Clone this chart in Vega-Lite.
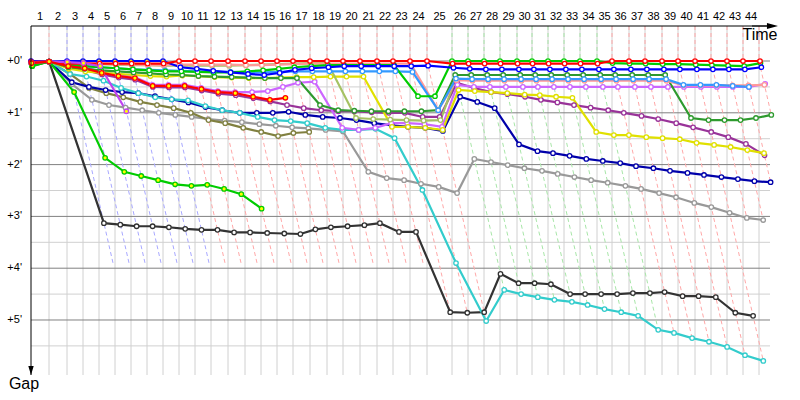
{
"$schema":"https://vega.github.io/schema/vega-lite/v6.json",
"width":739,"height":349,"autosize":"none",
"padding":{"left":31,"top":26,"right":30,"bottom":25},
"background":"white",
"config":{"view":{"stroke":null},"font":"Liberation Sans"},
"datasets":{
"laps":[
{"lap":1,"t0":18,"mid":9},{"lap":2,"t0":36,"mid":27},{"lap":3,"t0":52,"mid":44},{"lap":4,"t0":68,"mid":60},{"lap":5,"t0":84,"mid":76},{"lap":6,"t0":100,"mid":92},{"lap":7,"t0":116,"mid":108},{"lap":8,"t0":132,"mid":124},{"lap":9,"t0":148,"mid":140},{"lap":10,"t0":164,"mid":156},{"lap":11,"t0":180,"mid":172},{"lap":12,"t0":197,"mid":188.5},{"lap":13,"t0":214,"mid":205.5},{"lap":14,"t0":230,"mid":222},{"lap":15,"t0":246,"mid":238},{"lap":16,"t0":262,"mid":254},{"lap":17,"t0":279,"mid":270.5},{"lap":18,"t0":296,"mid":287.5},{"lap":19,"t0":312,"mid":304},{"lap":20,"t0":329,"mid":320.5},{"lap":21,"t0":346,"mid":337.5},{"lap":22,"t0":362,"mid":354},{"lap":23,"t0":379,"mid":370.5},{"lap":24,"t0":396,"mid":387.5},{"lap":25,"t0":421,"mid":408.5},{"lap":26,"t0":437,"mid":429},{"lap":27,"t0":453,"mid":445},{"lap":28,"t0":469,"mid":461},{"lap":29,"t0":486,"mid":477.5},{"lap":30,"t0":501,"mid":493.5},{"lap":31,"t0":517,"mid":509},{"lap":32,"t0":533,"mid":525},{"lap":33,"t0":549,"mid":541},{"lap":34,"t0":566,"mid":557.5},{"lap":35,"t0":581,"mid":573.5},{"lap":36,"t0":598,"mid":589.5},{"lap":37,"t0":614,"mid":606},{"lap":38,"t0":631,"mid":622.5},{"lap":39,"t0":647,"mid":639},{"lap":40,"t0":664,"mid":655.5},{"lap":41,"t0":680,"mid":672},{"lap":42,"t0":696,"mid":688},{"lap":43,"t0":712,"mid":704},{"lap":44,"t0":728,"mid":720}
],
"lseg":[
{"lap":1,"k":0,"t":18,"g":-0.676,"d":"Lp"},{"lap":1,"k":1,"t":18,"g":0,"d":"Lp"},
{"lap":2,"k":0,"t":36,"g":-0.676,"d":"Lb"},{"lap":2,"k":1,"t":36,"g":0,"d":"Lb"},{"lap":2,"k":2,"t":82.6,"g":3.95,"d":"Lb"},
{"lap":3,"k":0,"t":52,"g":-0.676,"d":"Lb"},{"lap":3,"k":1,"t":52,"g":0,"d":"Lb"},{"lap":3,"k":2,"t":98.6,"g":3.95,"d":"Lb"},
{"lap":4,"k":0,"t":68,"g":-0.676,"d":"Lb"},{"lap":4,"k":1,"t":68,"g":0,"d":"Lb"},{"lap":4,"k":2,"t":114.6,"g":3.95,"d":"Lb"},
{"lap":5,"k":0,"t":84,"g":-0.676,"d":"Lb"},{"lap":5,"k":1,"t":84,"g":0,"d":"Lb"},{"lap":5,"k":2,"t":130.6,"g":3.95,"d":"Lb"},
{"lap":6,"k":0,"t":100,"g":-0.676,"d":"Lb"},{"lap":6,"k":1,"t":100,"g":0,"d":"Lb"},{"lap":6,"k":2,"t":146.6,"g":3.95,"d":"Lb"},
{"lap":7,"k":0,"t":116,"g":-0.676,"d":"Lb"},{"lap":7,"k":1,"t":116,"g":0,"d":"Lb"},{"lap":7,"k":2,"t":162.6,"g":3.95,"d":"Lb"},
{"lap":8,"k":0,"t":132,"g":-0.676,"d":"Lb"},{"lap":8,"k":1,"t":132,"g":0,"d":"Lb"},{"lap":8,"k":2,"t":178.6,"g":3.95,"d":"Lb"},
{"lap":9,"k":0,"t":148,"g":-0.676,"d":"Lr"},{"lap":9,"k":1,"t":148,"g":0,"d":"Lr"},{"lap":9,"k":2,"t":194.6,"g":3.95,"d":"Lr"},
{"lap":10,"k":0,"t":164,"g":-0.676,"d":"Lr"},{"lap":10,"k":1,"t":164,"g":0,"d":"Lr"},{"lap":10,"k":2,"t":210.6,"g":3.95,"d":"Lr"},
{"lap":11,"k":0,"t":180,"g":-0.676,"d":"Lr"},{"lap":11,"k":1,"t":180,"g":0,"d":"Lr"},{"lap":11,"k":2,"t":226.6,"g":3.95,"d":"Lr"},
{"lap":12,"k":0,"t":197,"g":-0.676,"d":"Lr"},{"lap":12,"k":1,"t":197,"g":0,"d":"Lr"},{"lap":12,"k":2,"t":243.6,"g":3.95,"d":"Lr"},
{"lap":13,"k":0,"t":214,"g":-0.676,"d":"Lr"},{"lap":13,"k":1,"t":214,"g":0,"d":"Lr"},{"lap":13,"k":2,"t":260.6,"g":3.95,"d":"Lr"},
{"lap":14,"k":0,"t":230,"g":-0.676,"d":"Lr"},{"lap":14,"k":1,"t":230,"g":0,"d":"Lr"},{"lap":14,"k":2,"t":276.6,"g":3.95,"d":"Lr"},
{"lap":15,"k":0,"t":246,"g":-0.676,"d":"Lr"},{"lap":15,"k":1,"t":246,"g":0,"d":"Lr"},{"lap":15,"k":2,"t":292.6,"g":3.95,"d":"Lr"},
{"lap":16,"k":0,"t":262,"g":-0.676,"d":"Lr"},{"lap":16,"k":1,"t":262,"g":0,"d":"Lr"},{"lap":16,"k":2,"t":308.6,"g":3.95,"d":"Lr"},
{"lap":17,"k":0,"t":279,"g":-0.676,"d":"Lr"},{"lap":17,"k":1,"t":279,"g":0,"d":"Lr"},{"lap":17,"k":2,"t":325.6,"g":3.95,"d":"Lr"},
{"lap":18,"k":0,"t":296,"g":-0.676,"d":"Lr"},{"lap":18,"k":1,"t":296,"g":0,"d":"Lr"},{"lap":18,"k":2,"t":342.6,"g":3.95,"d":"Lr"},
{"lap":19,"k":0,"t":312,"g":-0.676,"d":"Lr"},{"lap":19,"k":1,"t":312,"g":0,"d":"Lr"},{"lap":19,"k":2,"t":358.6,"g":3.95,"d":"Lr"},
{"lap":20,"k":0,"t":329,"g":-0.676,"d":"Lr"},{"lap":20,"k":1,"t":329,"g":0,"d":"Lr"},{"lap":20,"k":2,"t":375.6,"g":3.95,"d":"Lr"},
{"lap":21,"k":0,"t":346,"g":-0.676,"d":"Lr"},{"lap":21,"k":1,"t":346,"g":0,"d":"Lr"},{"lap":21,"k":2,"t":392.6,"g":3.95,"d":"Lr"},
{"lap":22,"k":0,"t":362,"g":-0.676,"d":"Lr"},{"lap":22,"k":1,"t":362,"g":0,"d":"Lr"},{"lap":22,"k":2,"t":419.2,"g":4.85,"d":"Lr"},
{"lap":23,"k":0,"t":379,"g":-0.676,"d":"Lr"},{"lap":23,"k":1,"t":379,"g":0,"d":"Lr"},{"lap":23,"k":2,"t":436.3,"g":4.86,"d":"Lr"},
{"lap":24,"k":0,"t":396,"g":-0.676,"d":"Lr"},{"lap":24,"k":1,"t":396,"g":0,"d":"Lr"},{"lap":24,"k":2,"t":455.2,"g":5.02,"d":"Lr"},
{"lap":25,"k":0,"t":421,"g":-0.676,"d":"Lg"},{"lap":25,"k":1,"t":421,"g":0,"d":"Lg"},{"lap":25,"k":2,"t":473.2,"g":4.42,"d":"Lg"},
{"lap":26,"k":0,"t":437,"g":-0.676,"d":"Lg"},{"lap":26,"k":1,"t":437,"g":0,"d":"Lg"},{"lap":26,"k":2,"t":490.1,"g":4.5,"d":"Lg"},
{"lap":27,"k":0,"t":453,"g":-0.676,"d":"Lg"},{"lap":27,"k":1,"t":453,"g":0,"d":"Lg"},{"lap":27,"k":2,"t":506.8,"g":4.56,"d":"Lg"},
{"lap":28,"k":0,"t":469,"g":-0.676,"d":"Lg"},{"lap":28,"k":1,"t":469,"g":0,"d":"Lg"},{"lap":28,"k":2,"t":523.4,"g":4.61,"d":"Lg"},
{"lap":29,"k":0,"t":486,"g":-0.676,"d":"Lg"},{"lap":29,"k":1,"t":486,"g":0,"d":"Lg"},{"lap":29,"k":2,"t":540.9,"g":4.65,"d":"Lg"},
{"lap":30,"k":0,"t":501,"g":-0.676,"d":"Lg"},{"lap":30,"k":1,"t":501,"g":0,"d":"Lg"},{"lap":30,"k":2,"t":556.6,"g":4.71,"d":"Lg"},
{"lap":31,"k":0,"t":517,"g":-0.676,"d":"Lg"},{"lap":31,"k":1,"t":517,"g":0,"d":"Lg"},{"lap":31,"k":2,"t":573.5,"g":4.79,"d":"Lg"},
{"lap":32,"k":0,"t":533,"g":-0.676,"d":"Lg"},{"lap":32,"k":1,"t":533,"g":0,"d":"Lg"},{"lap":32,"k":2,"t":590.2,"g":4.85,"d":"Lg"},
{"lap":33,"k":0,"t":549,"g":-0.676,"d":"Lg"},{"lap":33,"k":1,"t":549,"g":0,"d":"Lg"},{"lap":33,"k":2,"t":607.1,"g":4.92,"d":"Lg"},
{"lap":34,"k":0,"t":566,"g":-0.676,"d":"Lg"},{"lap":34,"k":1,"t":566,"g":0,"d":"Lg"},{"lap":34,"k":2,"t":627.2,"g":5.19,"d":"Lg"},
{"lap":35,"k":0,"t":581,"g":-0.676,"d":"Lr"},{"lap":35,"k":1,"t":581,"g":0,"d":"Lr"},{"lap":35,"k":2,"t":643,"g":5.25,"d":"Lr"},
{"lap":36,"k":0,"t":598,"g":-0.676,"d":"Lr"},{"lap":36,"k":1,"t":598,"g":0,"d":"Lr"},{"lap":36,"k":2,"t":661.1,"g":5.35,"d":"Lr"},
{"lap":37,"k":0,"t":614,"g":-0.676,"d":"Lr"},{"lap":37,"k":1,"t":614,"g":0,"d":"Lr"},{"lap":37,"k":2,"t":678,"g":5.42,"d":"Lr"},
{"lap":38,"k":0,"t":631,"g":-0.676,"d":"Lr"},{"lap":38,"k":1,"t":631,"g":0,"d":"Lr"},{"lap":38,"k":2,"t":696.1,"g":5.52,"d":"Lr"},
{"lap":39,"k":0,"t":647,"g":-0.676,"d":"Lr"},{"lap":39,"k":1,"t":647,"g":0,"d":"Lr"},{"lap":39,"k":2,"t":714,"g":5.68,"d":"Lr"},
{"lap":40,"k":0,"t":664,"g":-0.676,"d":"Lr"},{"lap":40,"k":1,"t":664,"g":0,"d":"Lr"},{"lap":40,"k":2,"t":732.3,"g":5.79,"d":"Lr"},
{"lap":41,"k":0,"t":680,"g":-0.676,"d":"Lr"},{"lap":41,"k":1,"t":680,"g":0,"d":"Lr"},{"lap":41,"k":2,"t":715.8,"g":3.03,"d":"Lr"},
{"lap":42,"k":0,"t":696,"g":-0.676,"d":"Lr"},{"lap":42,"k":1,"t":696,"g":0,"d":"Lr"},{"lap":42,"k":2,"t":732.2,"g":3.07,"d":"Lr"},
{"lap":43,"k":0,"t":712,"g":-0.676,"d":"Lr"},{"lap":43,"k":1,"t":712,"g":0,"d":"Lr"},{"lap":43,"k":2,"t":739.6,"g":2.34,"d":"Lr"},
{"lap":44,"k":0,"t":728,"g":-0.676,"d":"Lr"},{"lap":44,"k":1,"t":728,"g":0,"d":"Lr"},{"lap":44,"k":2,"t":740.3,"g":1.04,"d":"Lr"}
],
"drv":[
{"d":"bk","lap":0,"t":0.7,"g":0.06},{"d":"bk","lap":1,"t":18.1,"g":0.01},{"d":"bk","lap":2,"t":72.9,"g":3.13},{"d":"bk","lap":3,"t":89.3,"g":3.16},{"d":"bk","lap":4,"t":105.6,"g":3.19},{"d":"bk","lap":5,"t":121.6,"g":3.19},{"d":"bk","lap":6,"t":137.9,"g":3.21},{"d":"bk","lap":7,"t":154.2,"g":3.24},{"d":"bk","lap":8,"t":170.5,"g":3.26},{"d":"bk","lap":9,"t":186.5,"g":3.26},{"d":"bk","lap":10,"t":203.1,"g":3.31},{"d":"bk","lap":11,"t":219.1,"g":3.31},{"d":"bk","lap":12,"t":236.2,"g":3.32},{"d":"bk","lap":13,"t":253.3,"g":3.33},{"d":"bk","lap":14,"t":269.4,"g":3.34},{"d":"bk","lap":15,"t":284.4,"g":3.25},{"d":"bk","lap":16,"t":299.9,"g":3.21},{"d":"bk","lap":17,"t":316.6,"g":3.19},{"d":"bk","lap":18,"t":333.4,"g":3.17},{"d":"bk","lap":19,"t":348.9,"g":3.13},{"d":"bk","lap":20,"t":368,"g":3.3},{"d":"bk","lap":21,"t":385,"g":3.3},{"d":"bk","lap":22,"t":419.2,"g":4.85},{"d":"bk","lap":23,"t":436.3,"g":4.86},{"d":"bk","lap":24,"t":453.2,"g":4.85},{"d":"bk","lap":25,"t":469.5,"g":4.11},{"d":"bk","lap":26,"t":487.6,"g":4.29},{"d":"bk","lap":27,"t":503.6,"g":4.29},{"d":"bk","lap":28,"t":519.9,"g":4.31},{"d":"bk","lap":29,"t":539.1,"g":4.5},{"d":"bk","lap":30,"t":554.1,"g":4.5},{"d":"bk","lap":31,"t":570.1,"g":4.5},{"d":"bk","lap":32,"t":586.1,"g":4.5},{"d":"bk","lap":33,"t":601.9,"g":4.48},{"d":"bk","lap":34,"t":618.9,"g":4.48},{"d":"bk","lap":35,"t":633.6,"g":4.46},{"d":"bk","lap":36,"t":651.6,"g":4.54},{"d":"bk","lap":37,"t":667.6,"g":4.54},{"d":"bk","lap":38,"t":684.8,"g":4.56},{"d":"bk","lap":39,"t":704.3,"g":4.86},{"d":"bk","lap":40,"t":722.1,"g":4.92},
{"d":"gr","lap":0,"t":1.2,"g":0.1},{"d":"gr","lap":1,"t":18.1,"g":0.01},{"d":"gr","lap":2,"t":41.3,"g":0.45},{"d":"gr","lap":3,"t":60.9,"g":0.75},{"d":"gr","lap":4,"t":78,"g":0.85},{"d":"gr","lap":5,"t":94.6,"g":0.9},{"d":"gr","lap":6,"t":111.2,"g":0.95},{"d":"gr","lap":7,"t":127.8,"g":1.0},{"d":"gr","lap":8,"t":144.3,"g":1.04},{"d":"gr","lap":9,"t":160.7,"g":1.08},{"d":"gr","lap":10,"t":177.2,"g":1.12},{"d":"gr","lap":11,"t":193.6,"g":1.15},{"d":"gr","lap":12,"t":210.9,"g":1.18},{"d":"gr","lap":13,"t":228.4,"g":1.22},{"d":"gr","lap":14,"t":244.8,"g":1.25},{"d":"gr","lap":15,"t":261.1,"g":1.28},{"d":"gr","lap":16,"t":277.3,"g":1.3},{"d":"gr","lap":17,"t":294.7,"g":1.33},{"d":"gr","lap":18,"t":312,"g":1.36},{"d":"gr","lap":19,"t":337.3,"g":2.14},{"d":"gr","lap":20,"t":355.7,"g":2.26},{"d":"gr","lap":21,"t":373.1,"g":2.3},{"d":"gr","lap":22,"t":390,"g":2.37},{"d":"gr","lap":23,"t":407.7,"g":2.43},{"d":"gr","lap":24,"t":426.1,"g":2.55},{"d":"gr","lap":25,"t":443.3,"g":1.89},{"d":"gr","lap":26,"t":460,"g":1.95},{"d":"gr","lap":27,"t":476.7,"g":2.01},{"d":"gr","lap":28,"t":493.4,"g":2.07},{"d":"gr","lap":29,"t":511,"g":2.12},{"d":"gr","lap":30,"t":526.7,"g":2.18},{"d":"gr","lap":31,"t":543.4,"g":2.24},{"d":"gr","lap":32,"t":560.1,"g":2.3},{"d":"gr","lap":33,"t":576.7,"g":2.35},{"d":"gr","lap":34,"t":594.4,"g":2.41},{"d":"gr","lap":35,"t":610.1,"g":2.47},{"d":"gr","lap":36,"t":628.1,"g":2.55},{"d":"gr","lap":37,"t":645,"g":2.63},{"d":"gr","lap":38,"t":663.3,"g":2.74},{"d":"gr","lap":39,"t":680.3,"g":2.82},{"d":"gr","lap":40,"t":698.6,"g":2.93},{"d":"gr","lap":41,"t":715.8,"g":3.03},{"d":"gr","lap":42,"t":732.2,"g":3.07},
{"d":"o","lap":0,"t":0.9,"g":0.08},{"d":"o","lap":1,"t":18.1,"g":0.01},{"d":"o","lap":2,"t":39,"g":0.25},{"d":"o","lap":3,"t":58.1,"g":0.52},{"d":"o","lap":4,"t":75.3,"g":0.62},{"d":"o","lap":5,"t":92.3,"g":0.7},{"d":"o","lap":6,"t":109.3,"g":0.79},{"d":"o","lap":7,"t":126,"g":0.85},{"d":"o","lap":8,"t":142.7,"g":0.91},{"d":"o","lap":9,"t":159.8,"g":1.0},{"d":"o","lap":10,"t":177.5,"g":1.14},{"d":"o","lap":11,"t":194.2,"g":1.2},{"d":"o","lap":12,"t":212.2,"g":1.29},{"d":"o","lap":13,"t":230.2,"g":1.37},{"d":"o","lap":14,"t":247.1,"g":1.45},{"d":"o","lap":15,"t":262.4,"g":1.39},{"d":"o","lap":16,"t":278.2,"g":1.37},
{"d":"n","lap":0,"t":0.6,"g":0.05},{"d":"n","lap":1,"t":18.1,"g":0.01},{"d":"n","lap":2,"t":40.8,"g":0.41},{"d":"n","lap":3,"t":57.9,"g":0.5},{"d":"n","lap":4,"t":74.6,"g":0.56},{"d":"n","lap":5,"t":91.1,"g":0.6},{"d":"n","lap":6,"t":107.3,"g":0.62},{"d":"n","lap":7,"t":124,"g":0.68},{"d":"n","lap":8,"t":140.7,"g":0.74},{"d":"n","lap":9,"t":157.4,"g":0.8},{"d":"n","lap":10,"t":174.5,"g":0.89},{"d":"n","lap":11,"t":191.2,"g":0.95},{"d":"n","lap":12,"t":208.8,"g":1.0},{"d":"n","lap":13,"t":225.8,"g":1.0},{"d":"n","lap":14,"t":241.8,"g":1.0},{"d":"n","lap":15,"t":257.6,"g":0.98},{"d":"n","lap":16,"t":274.3,"g":1.04},{"d":"n","lap":17,"t":291.7,"g":1.08},{"d":"n","lap":18,"t":309,"g":1.1},{"d":"n","lap":19,"t":325.5,"g":1.14},{"d":"n","lap":20,"t":343.2,"g":1.2},{"d":"n","lap":21,"t":360.6,"g":1.24},{"d":"n","lap":22,"t":377,"g":1.27},{"d":"n","lap":23,"t":394.2,"g":1.29},{"d":"n","lap":24,"t":411.9,"g":1.35},{"d":"n","lap":25,"t":429.1,"g":0.69},{"d":"n","lap":26,"t":446.3,"g":0.79},{"d":"n","lap":27,"t":463.7,"g":0.91},{"d":"n","lap":28,"t":488,"g":1.61},{"d":"n","lap":29,"t":506.5,"g":1.74},{"d":"n","lap":30,"t":522,"g":1.78},{"d":"n","lap":31,"t":538.6,"g":1.83},{"d":"n","lap":32,"t":555.3,"g":1.89},{"d":"n","lap":33,"t":571.8,"g":1.93},{"d":"n","lap":34,"t":589.2,"g":1.97},{"d":"n","lap":35,"t":605,"g":2.03},{"d":"n","lap":36,"t":622.4,"g":2.07},{"d":"n","lap":37,"t":639,"g":2.12},{"d":"n","lap":38,"t":656.5,"g":2.16},{"d":"n","lap":39,"t":673,"g":2.2},{"d":"n","lap":40,"t":690.4,"g":2.24},{"d":"n","lap":41,"t":706.9,"g":2.28},{"d":"n","lap":42,"t":723.4,"g":2.32},{"d":"n","lap":43,"t":739.6,"g":2.34},
{"d":"c","lap":0,"t":0.6,"g":0.05},{"d":"c","lap":1,"t":18.1,"g":0.01},{"d":"c","lap":2,"t":39,"g":0.25},{"d":"c","lap":3,"t":55.5,"g":0.3},{"d":"c","lap":4,"t":72.5,"g":0.38},{"d":"c","lap":5,"t":90.1,"g":0.52},{"d":"c","lap":6,"t":107.3,"g":0.62},{"d":"c","lap":7,"t":124.3,"g":0.7},{"d":"c","lap":8,"t":140.7,"g":0.74},{"d":"c","lap":9,"t":157,"g":0.76},{"d":"c","lap":10,"t":174.3,"g":0.87},{"d":"c","lap":11,"t":191.2,"g":0.95},{"d":"c","lap":12,"t":208.8,"g":1.0},{"d":"c","lap":13,"t":226.7,"g":1.08},{"d":"c","lap":14,"t":243.5,"g":1.14},{"d":"c","lap":15,"t":259.7,"g":1.16},{"d":"c","lap":16,"t":276.2,"g":1.2},{"d":"c","lap":17,"t":294.2,"g":1.29},{"d":"c","lap":18,"t":311.7,"g":1.33},{"d":"c","lap":19,"t":327.7,"g":1.33},{"d":"c","lap":20,"t":344.5,"g":1.31},{"d":"c","lap":21,"t":363.6,"g":1.49},{"d":"c","lap":22,"t":391.4,"g":2.49},{"d":"c","lap":23,"t":425,"g":3.9},{"d":"c","lap":24,"t":455.2,"g":5.02},{"d":"c","lap":25,"t":473.2,"g":4.42},{"d":"c","lap":26,"t":490.1,"g":4.5},{"d":"c","lap":27,"t":506.8,"g":4.56},{"d":"c","lap":28,"t":523.4,"g":4.61},{"d":"c","lap":29,"t":540.9,"g":4.65},{"d":"c","lap":30,"t":556.6,"g":4.71},{"d":"c","lap":31,"t":573.5,"g":4.79},{"d":"c","lap":32,"t":590.2,"g":4.85},{"d":"c","lap":33,"t":607.1,"g":4.92},{"d":"c","lap":34,"t":627.2,"g":5.19},{"d":"c","lap":35,"t":643,"g":5.25},{"d":"c","lap":36,"t":661.1,"g":5.35},{"d":"c","lap":37,"t":678,"g":5.42},{"d":"c","lap":38,"t":696.1,"g":5.52},{"d":"c","lap":39,"t":714,"g":5.68},{"d":"c","lap":40,"t":732.3,"g":5.79},
{"d":"pu","lap":0,"t":0.8,"g":0.07},{"d":"pu","lap":1,"t":18.1,"g":0.01},{"d":"pu","lap":2,"t":37.5,"g":0.13},{"d":"pu","lap":3,"t":54,"g":0.17},{"d":"pu","lap":4,"t":71.1,"g":0.26},{"d":"pu","lap":5,"t":87.8,"g":0.32},{"d":"pu","lap":6,"t":104.2,"g":0.36},{"d":"pu","lap":7,"t":121.9,"g":0.5},{"d":"pu","lap":8,"t":138,"g":0.51},{"d":"pu","lap":9,"t":154,"g":0.51},{"d":"pu","lap":10,"t":170.7,"g":0.57},{"d":"pu","lap":11,"t":187.4,"g":0.63},{"d":"pu","lap":12,"t":204.8,"g":0.66},{"d":"pu","lap":13,"t":222.5,"g":0.72},{"d":"pu","lap":14,"t":239.2,"g":0.78},{"d":"pu","lap":15,"t":256,"g":0.85},{"d":"pu","lap":16,"t":272.7,"g":0.91},{"d":"pu","lap":17,"t":290.2,"g":0.95},{"d":"pu","lap":18,"t":307.4,"g":0.97},{"d":"pu","lap":19,"t":323.4,"g":0.97},{"d":"pu","lap":20,"t":340.7,"g":0.99},{"d":"pu","lap":21,"t":357.8,"g":1.0},{"d":"pu","lap":22,"t":373.8,"g":1.0},{"d":"pu","lap":23,"t":391.7,"g":1.08},{"d":"pu","lap":24,"t":408.7,"g":1.08},{"d":"pu","lap":25,"t":426,"g":0.42},{"d":"pu","lap":26,"t":443.1,"g":0.52},{"d":"pu","lap":27,"t":460.1,"g":0.6},{"d":"pu","lap":28,"t":476.6,"g":0.64},{"d":"pu","lap":29,"t":494.1,"g":0.69},{"d":"pu","lap":30,"t":509.9,"g":0.75},{"d":"pu","lap":31,"t":526.4,"g":0.8},{"d":"pu","lap":32,"t":543,"g":0.85},{"d":"pu","lap":33,"t":559.6,"g":0.9},{"d":"pu","lap":34,"t":577.2,"g":0.95},{"d":"pu","lap":35,"t":592.8,"g":1.0},{"d":"pu","lap":36,"t":610.5,"g":1.06},{"d":"pu","lap":37,"t":627.2,"g":1.12},{"d":"pu","lap":38,"t":645.2,"g":1.2},{"d":"pu","lap":39,"t":662.1,"g":1.28},{"d":"pu","lap":40,"t":680.2,"g":1.37},{"d":"pu","lap":41,"t":697.3,"g":1.47},{"d":"pu","lap":42,"t":714.9,"g":1.6},{"d":"pu","lap":43,"t":733.5,"g":1.82},
{"d":"v2","lap":0,"t":0.7,"g":0.06},{"d":"v2","lap":1,"t":18.1,"g":0.01},{"d":"v2","lap":2,"t":36.9,"g":0.08},{"d":"v2","lap":3,"t":53.4,"g":0.12},{"d":"v2","lap":4,"t":70.5,"g":0.21},{"d":"v2","lap":5,"t":87.2,"g":0.27},{"d":"v2","lap":6,"t":103.7,"g":0.31},{"d":"v2","lap":7,"t":121.4,"g":0.46},{"d":"v2","lap":8,"t":137.4,"g":0.46},{"d":"v2","lap":9,"t":153.4,"g":0.46},{"d":"v2","lap":10,"t":170.1,"g":0.52},{"d":"v2","lap":11,"t":186.8,"g":0.58},{"d":"v2","lap":12,"t":204.1,"g":0.6},{"d":"v2","lap":13,"t":221.1,"g":0.6},{"d":"v2","lap":14,"t":236.8,"g":0.58},{"d":"v2","lap":15,"t":251.9,"g":0.5},{"d":"v2","lap":16,"t":267,"g":0.42},{"d":"v2","lap":17,"t":283.7,"g":0.4},{"d":"v2","lap":18,"t":311.2,"g":1.29},{"d":"v2","lap":19,"t":327.7,"g":1.33},{"d":"v2","lap":20,"t":344.2,"g":1.29},{"d":"v2","lap":21,"t":360.2,"g":1.2},{"d":"v2","lap":22,"t":376.2,"g":1.2},{"d":"v2","lap":23,"t":393.4,"g":1.22},{"d":"v2","lap":24,"t":411,"g":1.27},{"d":"v2","lap":25,"t":426.4,"g":0.46},{"d":"v2","lap":26,"t":442.9,"g":0.5},{"d":"v2","lap":27,"t":458.9,"g":0.5},{"d":"v2","lap":28,"t":474.9,"g":0.5},{"d":"v2","lap":29,"t":491.9,"g":0.5},{"d":"v2","lap":30,"t":506.9,"g":0.5},{"d":"v2","lap":31,"t":522.9,"g":0.5},{"d":"v2","lap":32,"t":538.9,"g":0.5},{"d":"v2","lap":33,"t":554.9,"g":0.5},{"d":"v2","lap":34,"t":571.9,"g":0.5},{"d":"v2","lap":35,"t":586.9,"g":0.5},{"d":"v2","lap":36,"t":603.9,"g":0.5},{"d":"v2","lap":37,"t":619.9,"g":0.5},{"d":"v2","lap":38,"t":636.9,"g":0.5},{"d":"v2","lap":39,"t":652.9,"g":0.5},{"d":"v2","lap":40,"t":669.9,"g":0.5},{"d":"v2","lap":41,"t":685.9,"g":0.5},{"d":"v2","lap":42,"t":701.9,"g":0.5},{"d":"v2","lap":43,"t":717.9,"g":0.5},{"d":"v2","lap":44,"t":734.2,"g":0.44},
{"d":"y","lap":0,"t":0.9,"g":0.08},{"d":"y","lap":1,"t":18.1,"g":0.01},{"d":"y","lap":2,"t":37.8,"g":0.15},{"d":"y","lap":3,"t":54.4,"g":0.2},{"d":"y","lap":4,"t":70.7,"g":0.23},{"d":"y","lap":5,"t":87,"g":0.25},{"d":"y","lap":6,"t":103.2,"g":0.27},{"d":"y","lap":7,"t":119.4,"g":0.29},{"d":"y","lap":8,"t":135.5,"g":0.3},{"d":"y","lap":9,"t":151.3,"g":0.28},{"d":"y","lap":10,"t":167.4,"g":0.29},{"d":"y","lap":11,"t":183.7,"g":0.31},{"d":"y","lap":12,"t":200.8,"g":0.32},{"d":"y","lap":13,"t":217.9,"g":0.33},{"d":"y","lap":14,"t":233.9,"g":0.33},{"d":"y","lap":15,"t":249.8,"g":0.32},{"d":"y","lap":16,"t":265.7,"g":0.31},{"d":"y","lap":17,"t":282.7,"g":0.31},{"d":"y","lap":18,"t":299.5,"g":0.3},{"d":"y","lap":19,"t":315.5,"g":0.3},{"d":"y","lap":20,"t":332.5,"g":0.3},{"d":"y","lap":21,"t":361,"g":1.27},{"d":"y","lap":22,"t":377,"g":1.27},{"d":"y","lap":23,"t":394.2,"g":1.29},{"d":"y","lap":24,"t":411.7,"g":1.33},{"d":"y","lap":25,"t":427.6,"g":0.56},{"d":"y","lap":26,"t":443.8,"g":0.58},{"d":"y","lap":27,"t":460.1,"g":0.6},{"d":"y","lap":28,"t":476.3,"g":0.62},{"d":"y","lap":29,"t":493.7,"g":0.65},{"d":"y","lap":30,"t":508.8,"g":0.66},{"d":"y","lap":31,"t":525.1,"g":0.69},{"d":"y","lap":32,"t":541.4,"g":0.71},{"d":"y","lap":33,"t":565.2,"g":1.37},{"d":"y","lap":34,"t":582.9,"g":1.43},{"d":"y","lap":35,"t":597.9,"g":1.43},{"d":"y","lap":36,"t":615.3,"g":1.47},{"d":"y","lap":37,"t":631.6,"g":1.49},{"d":"y","lap":38,"t":648.8,"g":1.51},{"d":"y","lap":39,"t":665.6,"g":1.58},{"d":"y","lap":40,"t":683.1,"g":1.62},{"d":"y","lap":41,"t":699.6,"g":1.66},{"d":"y","lap":42,"t":716.3,"g":1.72},{"d":"y","lap":43,"t":733,"g":1.78},
{"d":"lg","lap":0,"t":0.4,"g":0.03},{"d":"lg","lap":1,"t":18.1,"g":0.01},{"d":"lg","lap":2,"t":36.5,"g":0.04},{"d":"lg","lap":3,"t":52.6,"g":0.05},{"d":"lg","lap":4,"t":68.7,"g":0.06},{"d":"lg","lap":5,"t":84.8,"g":0.07},{"d":"lg","lap":6,"t":100.9,"g":0.08},{"d":"lg","lap":7,"t":116.9,"g":0.08},{"d":"lg","lap":8,"t":133.1,"g":0.09},{"d":"lg","lap":9,"t":149.1,"g":0.09},{"d":"lg","lap":10,"t":165.1,"g":0.09},{"d":"lg","lap":11,"t":181.1,"g":0.09},{"d":"lg","lap":12,"t":198.1,"g":0.09},{"d":"lg","lap":13,"t":214.9,"g":0.08},{"d":"lg","lap":14,"t":230.8,"g":0.07},{"d":"lg","lap":15,"t":246.7,"g":0.06},{"d":"lg","lap":16,"t":262.6,"g":0.05},{"d":"lg","lap":17,"t":279.5,"g":0.04},{"d":"lg","lap":18,"t":296.4,"g":0.03},{"d":"lg","lap":19,"t":325,"g":1.1},{"d":"lg","lap":20,"t":342.2,"g":1.12},{"d":"lg","lap":21,"t":359.3,"g":1.13},{"d":"lg","lap":22,"t":375.5,"g":1.14},{"d":"lg","lap":23,"t":392.6,"g":1.15},{"d":"lg","lap":24,"t":409.5,"g":1.14},{"d":"lg","lap":25,"t":424.9,"g":0.33},
{"d":"dg","lap":0,"t":0.7,"g":0.06},{"d":"dg","lap":1,"t":18.1,"g":0.01},{"d":"dg","lap":2,"t":37.4,"g":0.12},{"d":"dg","lap":3,"t":53.8,"g":0.15},{"d":"dg","lap":4,"t":70.1,"g":0.18},{"d":"dg","lap":5,"t":86.4,"g":0.2},{"d":"dg","lap":6,"t":102.6,"g":0.22},{"d":"dg","lap":7,"t":118.8,"g":0.24},{"d":"dg","lap":8,"t":135.1,"g":0.26},{"d":"dg","lap":9,"t":151.2,"g":0.27},{"d":"dg","lap":10,"t":167.4,"g":0.29},{"d":"dg","lap":11,"t":183.5,"g":0.3},{"d":"dg","lap":12,"t":200.7,"g":0.31},{"d":"dg","lap":13,"t":217.8,"g":0.32},{"d":"dg","lap":14,"t":233.9,"g":0.33},{"d":"dg","lap":15,"t":249.9,"g":0.33},{"d":"dg","lap":16,"t":265.9,"g":0.33},{"d":"dg","lap":17,"t":289,"g":0.85},{"d":"dg","lap":18,"t":307.2,"g":0.95},{"d":"dg","lap":19,"t":323.3,"g":0.96},{"d":"dg","lap":20,"t":340.4,"g":0.97},{"d":"dg","lap":21,"t":357.4,"g":0.97},{"d":"dg","lap":22,"t":373.4,"g":0.97},{"d":"dg","lap":23,"t":390.4,"g":0.97},{"d":"dg","lap":24,"t":407.2,"g":0.95},{"d":"dg","lap":25,"t":424.2,"g":0.27},{"d":"dg","lap":26,"t":440.2,"g":0.27},{"d":"dg","lap":27,"t":456.2,"g":0.27},{"d":"dg","lap":28,"t":472.2,"g":0.27},{"d":"dg","lap":29,"t":489.2,"g":0.27},{"d":"dg","lap":30,"t":504.2,"g":0.27},{"d":"dg","lap":31,"t":520.2,"g":0.27},{"d":"dg","lap":32,"t":536.2,"g":0.27},{"d":"dg","lap":33,"t":552.2,"g":0.27},{"d":"dg","lap":34,"t":569.2,"g":0.27},{"d":"dg","lap":35,"t":584.2,"g":0.27},{"d":"dg","lap":36,"t":601.2,"g":0.27},{"d":"dg","lap":37,"t":617.2,"g":0.27},{"d":"dg","lap":38,"t":634.2,"g":0.27},{"d":"dg","lap":39,"t":660,"g":1.1},{"d":"dg","lap":40,"t":677.5,"g":1.14},{"d":"dg","lap":41,"t":693.5,"g":1.14},{"d":"dg","lap":42,"t":709.5,"g":1.14},{"d":"dg","lap":43,"t":725,"g":1.1},{"d":"dg","lap":44,"t":740.3,"g":1.04},
{"d":"pk","lap":0,"t":0,"g":0.0},{"d":"pk","lap":1,"t":18.1,"g":0.01},{"d":"pk","lap":2,"t":36.4,"g":0.03},{"d":"pk","lap":3,"t":52.5,"g":0.04},{"d":"pk","lap":4,"t":68.6,"g":0.05},{"d":"pk","lap":5,"t":84.7,"g":0.06},{"d":"pk","lap":6,"t":100.8,"g":0.07},{"d":"pk","lap":7,"t":116.9,"g":0.08},{"d":"pk","lap":8,"t":132.9,"g":0.08},{"d":"pk","lap":9,"t":148.8,"g":0.07},{"d":"pk","lap":10,"t":164.8,"g":0.07},{"d":"pk","lap":11,"t":180.8,"g":0.07},{"d":"pk","lap":12,"t":197.8,"g":0.07},{"d":"pk","lap":13,"t":214.9,"g":0.08},{"d":"pk","lap":14,"t":230.9,"g":0.08},{"d":"pk","lap":15,"t":246.8,"g":0.07},{"d":"pk","lap":16,"t":262.7,"g":0.06},{"d":"pk","lap":17,"t":279.6,"g":0.05},{"d":"pk","lap":18,"t":296.6,"g":0.05},{"d":"pk","lap":19,"t":312.6,"g":0.05},{"d":"pk","lap":20,"t":329.6,"g":0.05},{"d":"pk","lap":21,"t":346.6,"g":0.05},{"d":"pk","lap":22,"t":362.6,"g":0.05},{"d":"pk","lap":23,"t":379.6,"g":0.05},{"d":"pk","lap":24,"t":407.2,"g":0.95},{"d":"pk","lap":25,"t":425.4,"g":0.37},{"d":"pk","lap":26,"t":441.5,"g":0.38},{"d":"pk","lap":27,"t":457.5,"g":0.38},{"d":"pk","lap":28,"t":473.5,"g":0.38},{"d":"pk","lap":29,"t":490.5,"g":0.38},{"d":"pk","lap":30,"t":505.5,"g":0.38},{"d":"pk","lap":31,"t":521.5,"g":0.38},{"d":"pk","lap":32,"t":537.5,"g":0.38},{"d":"pk","lap":33,"t":553.5,"g":0.38},{"d":"pk","lap":34,"t":570.5,"g":0.38},{"d":"pk","lap":35,"t":585.5,"g":0.38},{"d":"pk","lap":36,"t":602.5,"g":0.38},{"d":"pk","lap":37,"t":618.5,"g":0.38},{"d":"pk","lap":38,"t":635.5,"g":0.38},{"d":"pk","lap":39,"t":652.5,"g":0.47},{"d":"pk","lap":40,"t":669.5,"g":0.47},{"d":"pk","lap":41,"t":685.5,"g":0.47},{"d":"pk","lap":42,"t":701.5,"g":0.47},{"d":"pk","lap":43,"t":717.5,"g":0.47},{"d":"pk","lap":44,"t":733.4,"g":0.46},
{"d":"sb","lap":0,"t":0.4,"g":0.03},{"d":"sb","lap":1,"t":18.1,"g":0.01},{"d":"sb","lap":2,"t":36.9,"g":0.08},{"d":"sb","lap":3,"t":53.2,"g":0.1},{"d":"sb","lap":4,"t":69.4,"g":0.12},{"d":"sb","lap":5,"t":85.7,"g":0.14},{"d":"sb","lap":6,"t":101.9,"g":0.16},{"d":"sb","lap":7,"t":118,"g":0.17},{"d":"sb","lap":8,"t":134.1,"g":0.18},{"d":"sb","lap":9,"t":150.2,"g":0.19},{"d":"sb","lap":10,"t":166.4,"g":0.2},{"d":"sb","lap":11,"t":182.5,"g":0.21},{"d":"sb","lap":12,"t":199.5,"g":0.21},{"d":"sb","lap":13,"t":216.6,"g":0.22},{"d":"sb","lap":14,"t":232.6,"g":0.22},{"d":"sb","lap":15,"t":248.5,"g":0.21},{"d":"sb","lap":16,"t":264.4,"g":0.2},{"d":"sb","lap":17,"t":281.4,"g":0.2},{"d":"sb","lap":18,"t":298.4,"g":0.2},{"d":"sb","lap":19,"t":314.4,"g":0.2},{"d":"sb","lap":20,"t":331.4,"g":0.2},{"d":"sb","lap":21,"t":348.4,"g":0.2},{"d":"sb","lap":22,"t":364.4,"g":0.2},{"d":"sb","lap":23,"t":381.5,"g":0.21},{"d":"sb","lap":24,"t":407.2,"g":0.95},{"d":"sb","lap":25,"t":425,"g":0.34},{"d":"sb","lap":26,"t":441.1,"g":0.35},{"d":"sb","lap":27,"t":457.1,"g":0.35},{"d":"sb","lap":28,"t":473.1,"g":0.35},{"d":"sb","lap":29,"t":490.1,"g":0.35},{"d":"sb","lap":30,"t":505.1,"g":0.35},{"d":"sb","lap":31,"t":521.1,"g":0.35},{"d":"sb","lap":32,"t":537.1,"g":0.35},{"d":"sb","lap":33,"t":553.1,"g":0.35},{"d":"sb","lap":34,"t":570.1,"g":0.35},{"d":"sb","lap":35,"t":585.1,"g":0.35},{"d":"sb","lap":36,"t":602.1,"g":0.35},{"d":"sb","lap":37,"t":618.1,"g":0.35},{"d":"sb","lap":38,"t":635.1,"g":0.35},{"d":"sb","lap":39,"t":652.4,"g":0.46},{"d":"sb","lap":40,"t":669.4,"g":0.46},{"d":"sb","lap":41,"t":685.4,"g":0.46},{"d":"sb","lap":42,"t":701.7,"g":0.48},{"d":"sb","lap":43,"t":717.9,"g":0.5},
{"d":"g1","lap":0,"t":1.2,"g":0.1},{"d":"g1","lap":1,"t":18.1,"g":0.01},{"d":"g1","lap":2,"t":36.9,"g":0.08},{"d":"g1","lap":3,"t":53.2,"g":0.1},{"d":"g1","lap":4,"t":69.4,"g":0.12},{"d":"g1","lap":5,"t":85.7,"g":0.14},{"d":"g1","lap":6,"t":101.9,"g":0.16},{"d":"g1","lap":7,"t":118.1,"g":0.18},{"d":"g1","lap":8,"t":134.4,"g":0.2},{"d":"g1","lap":9,"t":150.4,"g":0.2},{"d":"g1","lap":10,"t":166.5,"g":0.21},{"d":"g1","lap":11,"t":182.6,"g":0.22},{"d":"g1","lap":12,"t":199.6,"g":0.22},{"d":"g1","lap":13,"t":216.4,"g":0.2},{"d":"g1","lap":14,"t":232.1,"g":0.18},{"d":"g1","lap":15,"t":247.8,"g":0.15},{"d":"g1","lap":16,"t":263.4,"g":0.12},{"d":"g1","lap":17,"t":280.2,"g":0.1},{"d":"g1","lap":18,"t":296.9,"g":0.08},{"d":"g1","lap":19,"t":312.9,"g":0.08},{"d":"g1","lap":20,"t":329.9,"g":0.08},{"d":"g1","lap":21,"t":346.9,"g":0.08},{"d":"g1","lap":22,"t":362.9,"g":0.08},{"d":"g1","lap":23,"t":387,"g":0.68},{"d":"g1","lap":24,"t":404,"g":0.68},{"d":"g1","lap":25,"t":421,"g":0},{"d":"g1","lap":26,"t":437,"g":0},{"d":"g1","lap":27,"t":453,"g":0},{"d":"g1","lap":28,"t":469,"g":0},{"d":"g1","lap":29,"t":486,"g":0},{"d":"g1","lap":30,"t":501,"g":0},{"d":"g1","lap":31,"t":517,"g":0},{"d":"g1","lap":32,"t":533,"g":0},{"d":"g1","lap":33,"t":549,"g":0},{"d":"g1","lap":34,"t":566,"g":0},{"d":"g1","lap":35,"t":581.5,"g":0.04},{"d":"g1","lap":36,"t":598.6,"g":0.05},{"d":"g1","lap":37,"t":614.6,"g":0.05},{"d":"g1","lap":38,"t":631.7,"g":0.06},{"d":"g1","lap":39,"t":647.7,"g":0.06},{"d":"g1","lap":40,"t":664.8,"g":0.07},{"d":"g1","lap":41,"t":680.9,"g":0.08},{"d":"g1","lap":42,"t":697.1,"g":0.09},{"d":"g1","lap":43,"t":713.2,"g":0.1},{"d":"g1","lap":44,"t":729.5,"g":0.04},
{"d":"b1","lap":0,"t":0,"g":0},{"d":"b1","lap":1,"t":18.1,"g":0.01},{"d":"b1","lap":2,"t":36,"g":0,"m":1},{"d":"b1","lap":3,"t":52,"g":0,"m":1},{"d":"b1","lap":4,"t":68,"g":0,"m":1},{"d":"b1","lap":5,"t":84,"g":0,"m":1},{"d":"b1","lap":6,"t":100,"g":0,"m":1},{"d":"b1","lap":7,"t":116,"g":0,"m":1},{"d":"b1","lap":8,"t":132,"g":0,"m":1},{"d":"b1","lap":9,"t":149.4,"g":0.12},{"d":"b1","lap":10,"t":165.8,"g":0.15},{"d":"b1","lap":11,"t":182.2,"g":0.19},{"d":"b1","lap":12,"t":199.6,"g":0.22},{"d":"b1","lap":13,"t":217,"g":0.25},{"d":"b1","lap":14,"t":233.2,"g":0.27},{"d":"b1","lap":15,"t":248.7,"g":0.23},{"d":"b1","lap":16,"t":264,"g":0.17},{"d":"b1","lap":17,"t":280.7,"g":0.14},{"d":"b1","lap":18,"t":297.4,"g":0.12},{"d":"b1","lap":19,"t":313.2,"g":0.1},{"d":"b1","lap":20,"t":330.2,"g":0.1},{"d":"b1","lap":21,"t":347.2,"g":0.1},{"d":"b1","lap":22,"t":363.2,"g":0.1},{"d":"b1","lap":23,"t":380.2,"g":0.1},{"d":"b1","lap":24,"t":397.1,"g":0.09},{"d":"b1","lap":25,"t":422.5,"g":0.13},{"d":"b1","lap":26,"t":438.8,"g":0.15},{"d":"b1","lap":27,"t":454.9,"g":0.16},{"d":"b1","lap":28,"t":470.9,"g":0.16},{"d":"b1","lap":29,"t":487.9,"g":0.16},{"d":"b1","lap":30,"t":502.9,"g":0.16},{"d":"b1","lap":31,"t":518.9,"g":0.16},{"d":"b1","lap":32,"t":534.9,"g":0.16},{"d":"b1","lap":33,"t":550.9,"g":0.16},{"d":"b1","lap":34,"t":567.9,"g":0.16},{"d":"b1","lap":35,"t":582.9,"g":0.16},{"d":"b1","lap":36,"t":599.9,"g":0.16},{"d":"b1","lap":37,"t":615.9,"g":0.16},{"d":"b1","lap":38,"t":632.9,"g":0.16},{"d":"b1","lap":39,"t":648.9,"g":0.16},{"d":"b1","lap":40,"t":665.9,"g":0.16},{"d":"b1","lap":41,"t":681.9,"g":0.16},{"d":"b1","lap":42,"t":697.9,"g":0.16},{"d":"b1","lap":43,"t":713.9,"g":0.16},{"d":"b1","lap":44,"t":730.4,"g":0.12},
{"d":"r1","lap":0,"t":0.2,"g":0.02},{"d":"r1","lap":1,"t":18.1,"g":0.01},{"d":"r1","lap":2,"t":36.6,"g":0.05},{"d":"r1","lap":3,"t":52.6,"g":0.05},{"d":"r1","lap":4,"t":68.6,"g":0.05},{"d":"r1","lap":5,"t":84.6,"g":0.05},{"d":"r1","lap":6,"t":100.6,"g":0.05},{"d":"r1","lap":7,"t":116.6,"g":0.05},{"d":"r1","lap":8,"t":132.6,"g":0.05},{"d":"r1","lap":9,"t":148,"g":0},{"d":"r1","lap":10,"t":164,"g":0},{"d":"r1","lap":11,"t":180,"g":0},{"d":"r1","lap":12,"t":197,"g":0},{"d":"r1","lap":13,"t":214,"g":0},{"d":"r1","lap":14,"t":230,"g":0},{"d":"r1","lap":15,"t":246,"g":0},{"d":"r1","lap":16,"t":262,"g":0},{"d":"r1","lap":17,"t":279,"g":0},{"d":"r1","lap":18,"t":296,"g":0},{"d":"r1","lap":19,"t":312,"g":0},{"d":"r1","lap":20,"t":329,"g":0},{"d":"r1","lap":21,"t":346,"g":0},{"d":"r1","lap":22,"t":362,"g":0},{"d":"r1","lap":23,"t":379,"g":0},{"d":"r1","lap":24,"t":396,"g":0},{"d":"r1","lap":25,"t":421.6,"g":0.05},{"d":"r1","lap":26,"t":437.6,"g":0.05},{"d":"r1","lap":27,"t":453.6,"g":0.05},{"d":"r1","lap":28,"t":469.6,"g":0.05},{"d":"r1","lap":29,"t":486.6,"g":0.05},{"d":"r1","lap":30,"t":501.6,"g":0.05},{"d":"r1","lap":31,"t":517.6,"g":0.05},{"d":"r1","lap":32,"t":533.6,"g":0.05},{"d":"r1","lap":33,"t":549.6,"g":0.05},{"d":"r1","lap":34,"t":566.6,"g":0.05},{"d":"r1","lap":35,"t":581,"g":0},{"d":"r1","lap":36,"t":598,"g":0},{"d":"r1","lap":37,"t":614,"g":0},{"d":"r1","lap":38,"t":631,"g":0},{"d":"r1","lap":39,"t":647,"g":0},{"d":"r1","lap":40,"t":664,"g":0},{"d":"r1","lap":41,"t":680,"g":0},{"d":"r1","lap":42,"t":696,"g":0},{"d":"r1","lap":43,"t":712,"g":0},{"d":"r1","lap":44,"t":729,"g":0},
{"d":"g2","lap":0,"t":1.1,"g":0.09,"m":1},{"d":"g2","lap":1,"t":18.1,"g":0.01,"m":1},{"d":"g2","lap":2,"t":43.1,"g":0.6,"m":1},{"d":"g2","lap":3,"t":74.1,"g":1.87,"m":1},{"d":"g2","lap":4,"t":93.3,"g":2.14,"m":1},{"d":"g2","lap":5,"t":110.2,"g":2.22,"m":1},{"d":"g2","lap":6,"t":127.1,"g":2.3,"m":1},{"d":"g2","lap":7,"t":144.1,"g":2.38,"m":1},{"d":"g2","lap":8,"t":160.4,"g":2.41,"m":1},{"d":"g2","lap":9,"t":176.2,"g":2.39,"m":1},{"d":"g2","lap":10,"t":193.1,"g":2.47,"m":1},{"d":"g2","lap":11,"t":210.3,"g":2.57,"m":1},{"d":"g2","lap":12,"t":230.6,"g":2.85,"m":1},
{"d":"v1","lap":0,"t":0.5,"g":0.04,"m":1},{"d":"v1","lap":1,"t":18.1,"g":0.01,"m":1},{"d":"v1","lap":2,"t":36.2,"g":0.02,"m":1},{"d":"v1","lap":3,"t":52.5,"g":0.04,"m":1},{"d":"v1","lap":4,"t":69.2,"g":0.1,"m":1},{"d":"v1","lap":5,"t":95.4,"g":0.97,"m":1},
{"d":"r2","lap":0,"t":0.5,"g":0.04,"m":1},{"d":"r2","lap":1,"t":18.1,"g":0.01,"m":1},{"d":"r2","lap":2,"t":37.2,"g":0.1,"m":1},{"d":"r2","lap":3,"t":53.7,"g":0.14,"m":1},{"d":"r2","lap":4,"t":70.7,"g":0.23,"m":1},{"d":"r2","lap":5,"t":87.4,"g":0.29,"m":1},{"d":"r2","lap":6,"t":103.9,"g":0.33,"m":1},{"d":"r2","lap":7,"t":121.7,"g":0.48,"m":1},{"d":"r2","lap":8,"t":137.7,"g":0.48,"m":1},{"d":"r2","lap":9,"t":153.7,"g":0.48,"m":1},{"d":"r2","lap":10,"t":170.4,"g":0.54,"m":1},{"d":"r2","lap":11,"t":187.1,"g":0.6,"m":1},{"d":"r2","lap":12,"t":204.3,"g":0.62,"m":1},{"d":"r2","lap":13,"t":222.1,"g":0.69,"m":1},{"d":"r2","lap":14,"t":238.9,"g":0.75,"m":1},{"d":"r2","lap":15,"t":254.4,"g":0.71,"m":1}
]
},
"layer":[
{"data":{"name":"laps"},"mark":{"type":"rule","color":"#d0d0d0","strokeWidth":1},
 "encoding":{"x":{"field":"t0","type":"quantitative","scale":{"domain":[0,739],"nice":false,"zero":false},"axis":null}}},
{"data":{"values":[{"g":0.5},{"g":1.5},{"g":2.5},{"g":3.5},{"g":4.5},{"g":5.5}]},"mark":{"type":"rule","color":"#d0d0d0","strokeWidth":1},
 "encoding":{"y":{"field":"g","type":"quantitative","scale":{"domain":[-0.676,6.062],"reverse":true,"nice":false,"zero":false},"axis":null}}},
{"data":{"values":[{"g":0},{"g":1},{"g":2},{"g":3},{"g":4},{"g":5}]},"mark":{"type":"rule","color":"#808080","strokeWidth":1},
 "encoding":{"y":{"field":"g","type":"quantitative","scale":{"domain":[-0.676,6.062],"reverse":true,"nice":false,"zero":false},"axis":null}}},
{"data":{"name":"lseg"},"mark":{"type":"line","strokeDash":[4,3],"strokeWidth":1},
 "encoding":{"x":{"field":"t","type":"quantitative","scale":{"domain":[0,739],"nice":false,"zero":false},"axis":null},
  "y":{"field":"g","type":"quantitative","scale":{"domain":[-0.676,6.062],"reverse":true,"nice":false,"zero":false},"axis":null},
  "detail":{"field":"lap","type":"nominal"},
  "order":{"field":"k","type":"quantitative"},
  "color":{"field":"d","type":"nominal","scale":{"domain":["bk","gr","o","n","c","pu","v2","y","lg","dg","pk","sb","g1","b1","r1","g2","v1","r2","Lp","Lb","Lr","Lg"],"range":["#333333","#999999","#808040","#0000aa","#33cccc","#993399","#cc66ff","#e0e000","#a5c263","#2e9a2e","#ff9999","#3399ff","#00cc00","#0000ff","#ff0000","#00cc00","#c044f0","#ff0000","#ffb4b4","#a8a8ff","#ffa8a8","#a8e6a8"]},"legend":null}}},
{"data":{"name":"drv"},"mark":{"type":"line","strokeWidth":2.2},
 "encoding":{"x":{"field":"t","type":"quantitative","scale":{"domain":[0,739],"nice":false,"zero":false},"axis":null},
  "y":{"field":"g","type":"quantitative","scale":{"domain":[-0.676,6.062],"reverse":true,"nice":false,"zero":false},"axis":null},
  "color":{"field":"d","type":"nominal","scale":{"domain":["bk","gr","o","n","c","pu","v2","y","lg","dg","pk","sb","g1","b1","r1","g2","v1","r2","Lp","Lb","Lr","Lg"],"range":["#333333","#999999","#808040","#0000aa","#33cccc","#993399","#cc66ff","#e0e000","#a5c263","#2e9a2e","#ff9999","#3399ff","#00cc00","#0000ff","#ff0000","#00cc00","#c044f0","#ff0000","#ffb4b4","#a8a8ff","#ffa8a8","#a8e6a8"]},"legend":null},
  "order":{"field":"lap","type":"quantitative"}}},
{"data":{"name":"drv"},"mark":{"type":"point","shape":"circle","filled":true,"size":20,"strokeWidth":1.3,"opacity":1},
 "encoding":{"x":{"field":"t","type":"quantitative","scale":{"domain":[0,739],"nice":false,"zero":false},"axis":null},
  "y":{"field":"g","type":"quantitative","scale":{"domain":[-0.676,6.062],"reverse":true,"nice":false,"zero":false},"axis":null},
  "stroke":{"field":"d","type":"nominal","scale":{"domain":["bk","gr","o","n","c","pu","v2","y","lg","dg","pk","sb","g1","b1","r1","g2","v1","r2","Lp","Lb","Lr","Lg"],"range":["#333333","#999999","#808040","#0000aa","#33cccc","#993399","#cc66ff","#e0e000","#a5c263","#2e9a2e","#ff9999","#3399ff","#00cc00","#0000ff","#ff0000","#00cc00","#c044f0","#ff0000","#ffb4b4","#a8a8ff","#ffa8a8","#a8e6a8"]},"legend":null},
  "fill":{"condition":{"test":"datum.m","value":"#ffff00"},"value":"#ffffff"}}},
{"data":{"values":[{"a":"y-axis"}]},"mark":{"type":"rule","color":"black","strokeWidth":1},
 "encoding":{"x":{"datum":0,"type":"quantitative","scale":{"domain":[0,739],"nice":false,"zero":false},"axis":null}}},
{"data":{"values":[{"a":"x-axis"}]},"mark":{"type":"rule","color":"black","strokeWidth":1},
 "encoding":{"y":{"datum":-0.676,"type":"quantitative","scale":{"domain":[-0.676,6.062],"reverse":true,"nice":false,"zero":false},"axis":null}}},
{"data":{"values":[{"g":0,"l":"+0'"},{"g":1,"l":"+1'"},{"g":2,"l":"+2'"},{"g":3,"l":"+3'"},{"g":4,"l":"+4'"},{"g":5,"l":"+5'"}]},
 "mark":{"type":"text","fontSize":11,"font":"Liberation Sans","color":"black","baseline":"middle","align":"right"},
 "encoding":{"x":{"datum":-9,"type":"quantitative","scale":{"domain":[0,739],"nice":false,"zero":false},"axis":null},
  "y":{"field":"g","type":"quantitative","scale":{"domain":[-0.676,6.062],"reverse":true,"nice":false,"zero":false},"axis":null},
  "text":{"field":"l","type":"nominal"}}},
{"data":{"name":"laps"},"mark":{"type":"text","fontSize":11,"font":"Liberation Sans","color":"black","baseline":"middle","align":"center"},
 "encoding":{"x":{"field":"mid","type":"quantitative","scale":{"domain":[0,739],"nice":false,"zero":false},"axis":null},
  "y":{"datum":-0.85,"type":"quantitative","scale":{"domain":[-0.676,6.062],"reverse":true,"nice":false,"zero":false},"axis":null},
  "text":{"field":"lap","type":"nominal"}}},
{"data":{"values":[{"a":"time-arrow"}]},"mark":{"type":"point","shape":"M-1,-0.04L0.15,-0.04L0.15,-0.23L1,0L0.15,0.23L0.15,0.04L-1,0.04Z","filled":true,"color":"black","size":676,"opacity":1},
 "encoding":{"x":{"datum":734,"type":"quantitative","scale":{"domain":[0,739],"nice":false,"zero":false},"axis":null},
  "y":{"datum":-0.676,"type":"quantitative","scale":{"domain":[-0.676,6.062],"reverse":true,"nice":false,"zero":false},"axis":null}}},
{"data":{"values":[{"a":"gap-arrow"}]},"mark":{"type":"point","shape":"M-0.6,-1L0.6,-1L0,1Z","filled":true,"color":"black","size":81,"opacity":1},
 "encoding":{"x":{"datum":0,"type":"quantitative","scale":{"domain":[0,739],"nice":false,"zero":false},"axis":null},
  "y":{"datum":5.975,"type":"quantitative","scale":{"domain":[-0.676,6.062],"reverse":true,"nice":false,"zero":false},"axis":null}}},
{"data":{"values":[{"label":"Time"}]},"mark":{"type":"text","fontSize":16,"font":"Liberation Sans","color":"black","baseline":"middle","align":"center"},
 "encoding":{"x":{"datum":729,"type":"quantitative","scale":{"domain":[0,739],"nice":false,"zero":false},"axis":null},
  "y":{"datum":-0.5,"type":"quantitative","scale":{"domain":[-0.676,6.062],"reverse":true,"nice":false,"zero":false},"axis":null},
  "text":{"field":"label","type":"nominal"}}},
{"data":{"values":[{"label":"Gap"}]},"mark":{"type":"text","fontSize":16,"font":"Liberation Sans","color":"black","baseline":"middle","align":"center"},
 "encoding":{"x":{"datum":-7,"type":"quantitative","scale":{"domain":[0,739],"nice":false,"zero":false},"axis":null},
  "y":{"datum":6.235,"type":"quantitative","scale":{"domain":[-0.676,6.062],"reverse":true,"nice":false,"zero":false},"axis":null},
  "text":{"field":"label","type":"nominal"}}}
]
}
